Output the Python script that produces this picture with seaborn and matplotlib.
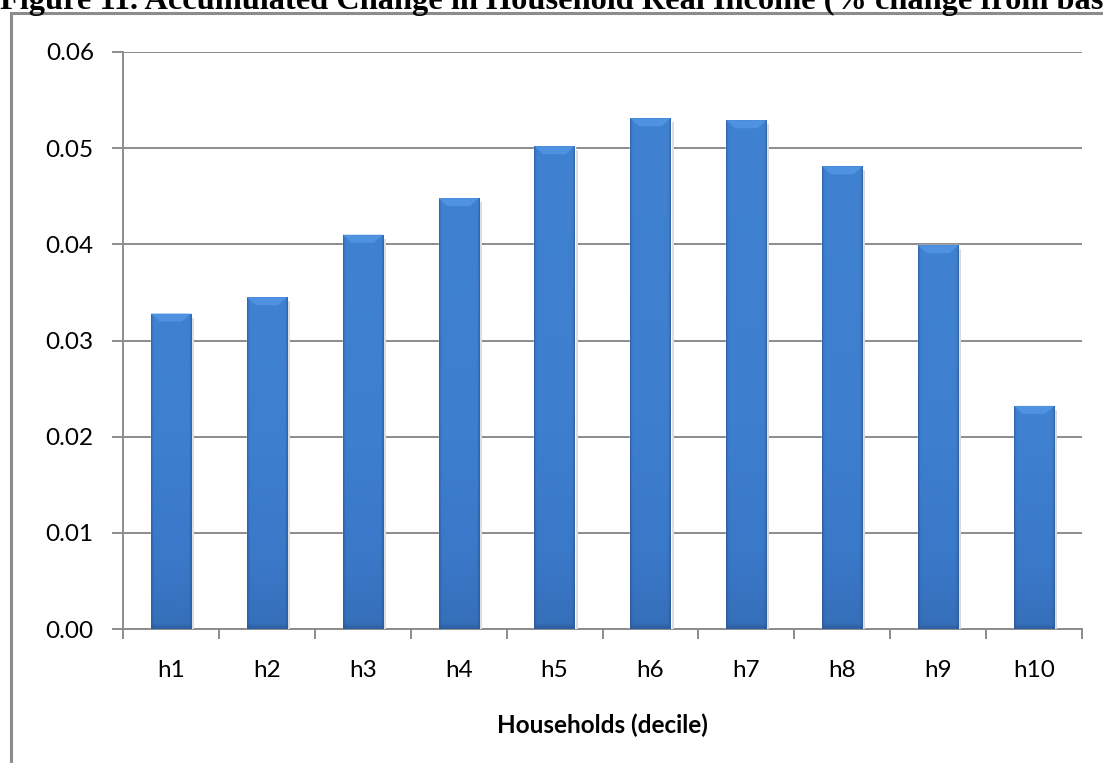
import numpy as np
import pandas as pd
import matplotlib
matplotlib.use("Agg")
import matplotlib.pyplot as plt
import seaborn as sns
from matplotlib.patches import Rectangle, Polygon
from matplotlib.colors import LinearSegmentedColormap

# Household deciles and accumulated change in real income (% change from base)
deciles = ["h1", "h2", "h3", "h4", "h5", "h6", "h7", "h8", "h9", "h10"]
income_change = [0.0328, 0.0345, 0.0410, 0.0448, 0.0502, 0.0531, 0.0529, 0.0481, 0.0399, 0.0232]
y_ticks = [0.00, 0.01, 0.02, 0.03, 0.04, 0.05, 0.06]

df = pd.DataFrame({"decile": deciles, "change": income_change})

sns.set_theme(style="white")
plt.rcParams["font.family"] = ["Lato", "DejaVu Sans"]

W, H = 1103, 763
fig = plt.figure(figsize=(W / 100, H / 100), dpi=100)
ax = fig.add_axes([123 / W, 1 - 629 / H, (1082 - 123) / W, (629 - 52) / H])

sns.barplot(data=df, x="decile", y="change", color="#3A78C8", width=0.42,
            saturation=1, ax=ax, zorder=3)

ax.set_xlim(-0.5, len(deciles) - 0.5)
ax.set_ylim(0, 0.06)

# Data units per pixel, used to size the bevel details
px_y = 0.06 / (629 - 52)
px_x = len(deciles) / (1082 - 123)

# Bevelled fill: lighter top, darker base, dark side edges
grad = LinearSegmentedColormap.from_list("bevel", ["#2A5A99", "#3A78C8", "#4285D6"])
cols = np.linspace(-1, 1, 80)
edge = np.clip((np.abs(cols) - 0.86) / 0.14, 0, 1)
for patch in ax.patches[:]:
    x0, y0 = patch.get_x(), patch.get_y()
    w, h = patch.get_width(), patch.get_height()
    rows = np.linspace(0, 1, 200)[:, None]
    body = 0.35 + 0.3 * np.clip(rows * h / 0.02, 0, 1) + 0.2 * rows
    base = np.clip(1 - rows * h / (5 * px_y), 0, 1)
    img = np.clip(body * (1 - 0.8 * edge[None, :]) * (1 - 0.7 * base), 0, 1)
    # faint shadow to the right of the bar
    ax.add_patch(Rectangle((x0 + w, y0), 3 * px_x, h - 4 * px_y,
                           facecolor="#D9D9D9", edgecolor="none", zorder=2.9))
    im = ax.imshow(img, cmap=grad, vmin=0, vmax=1, aspect="auto",
                   extent=(x0, x0 + w, y0, y0 + h), origin="lower", zorder=3.5)
    im.set_clip_path(patch)
    # light bevel face along the top
    top = y0 + h
    bh = 8 * px_y
    ax.add_patch(Polygon([(x0, top), (x0 + w, top),
                          (x0 + w - 9 * px_x, top - bh), (x0 + 9 * px_x, top - bh)],
                         closed=True, facecolor="#4F92E2", edgecolor="none", zorder=4))
ax.set_xlim(-0.5, len(deciles) - 0.5)
ax.set_ylim(0, 0.06)

ax.set_yticks(y_ticks)
ax.set_yticklabels([f"{v:.2f}" for v in y_ticks])

ax.grid(axis="y", color="#8C8C8C", linewidth=1.4, zorder=0)
ax.grid(axis="x", visible=False)
ax.set_axisbelow(True)

for side in ["top", "right"]:
    ax.spines[side].set_visible(False)
for side in ["left", "bottom"]:
    ax.spines[side].set_color("#8C8C8C")
    ax.spines[side].set_linewidth(1.4)

# Category boundary ticks on the x axis
ax.set_xticks(np.arange(-0.5, len(deciles)), minor=True)
ax.tick_params(axis="x", which="minor", length=7, width=1.4, color="#8C8C8C",
               direction="out", bottom=True)
ax.tick_params(axis="x", which="major", length=0, pad=22, labelsize=17.5,
               labelcolor="black")
ax.tick_params(axis="y", length=8, width=1.4, color="#8C8C8C", left=True,
               direction="out", pad=13, labelsize=17.5, labelcolor="black")

ax.set_ylabel("")
ax.set_xlabel("Households (decile)", fontsize=17.5, fontweight="bold",
              color="black", labelpad=24)

# Chart area frame
fig.patches.append(Rectangle((11 / W, -0.1), 1.2, 1 - 13 / H + 0.1,
                             transform=fig.transFigure, fill=False,
                             edgecolor="#8C8C8C", linewidth=2.2, zorder=0))

fig.text(0.0, 1 - 9 / H, "Figure 11. Accumulated Change in Household Real Income (% change from base",
         family=["Liberation Serif"], fontweight="bold", fontsize=23.3,
         ha="left", va="baseline", color="black")

fig.savefig("out.png", dpi=100)
